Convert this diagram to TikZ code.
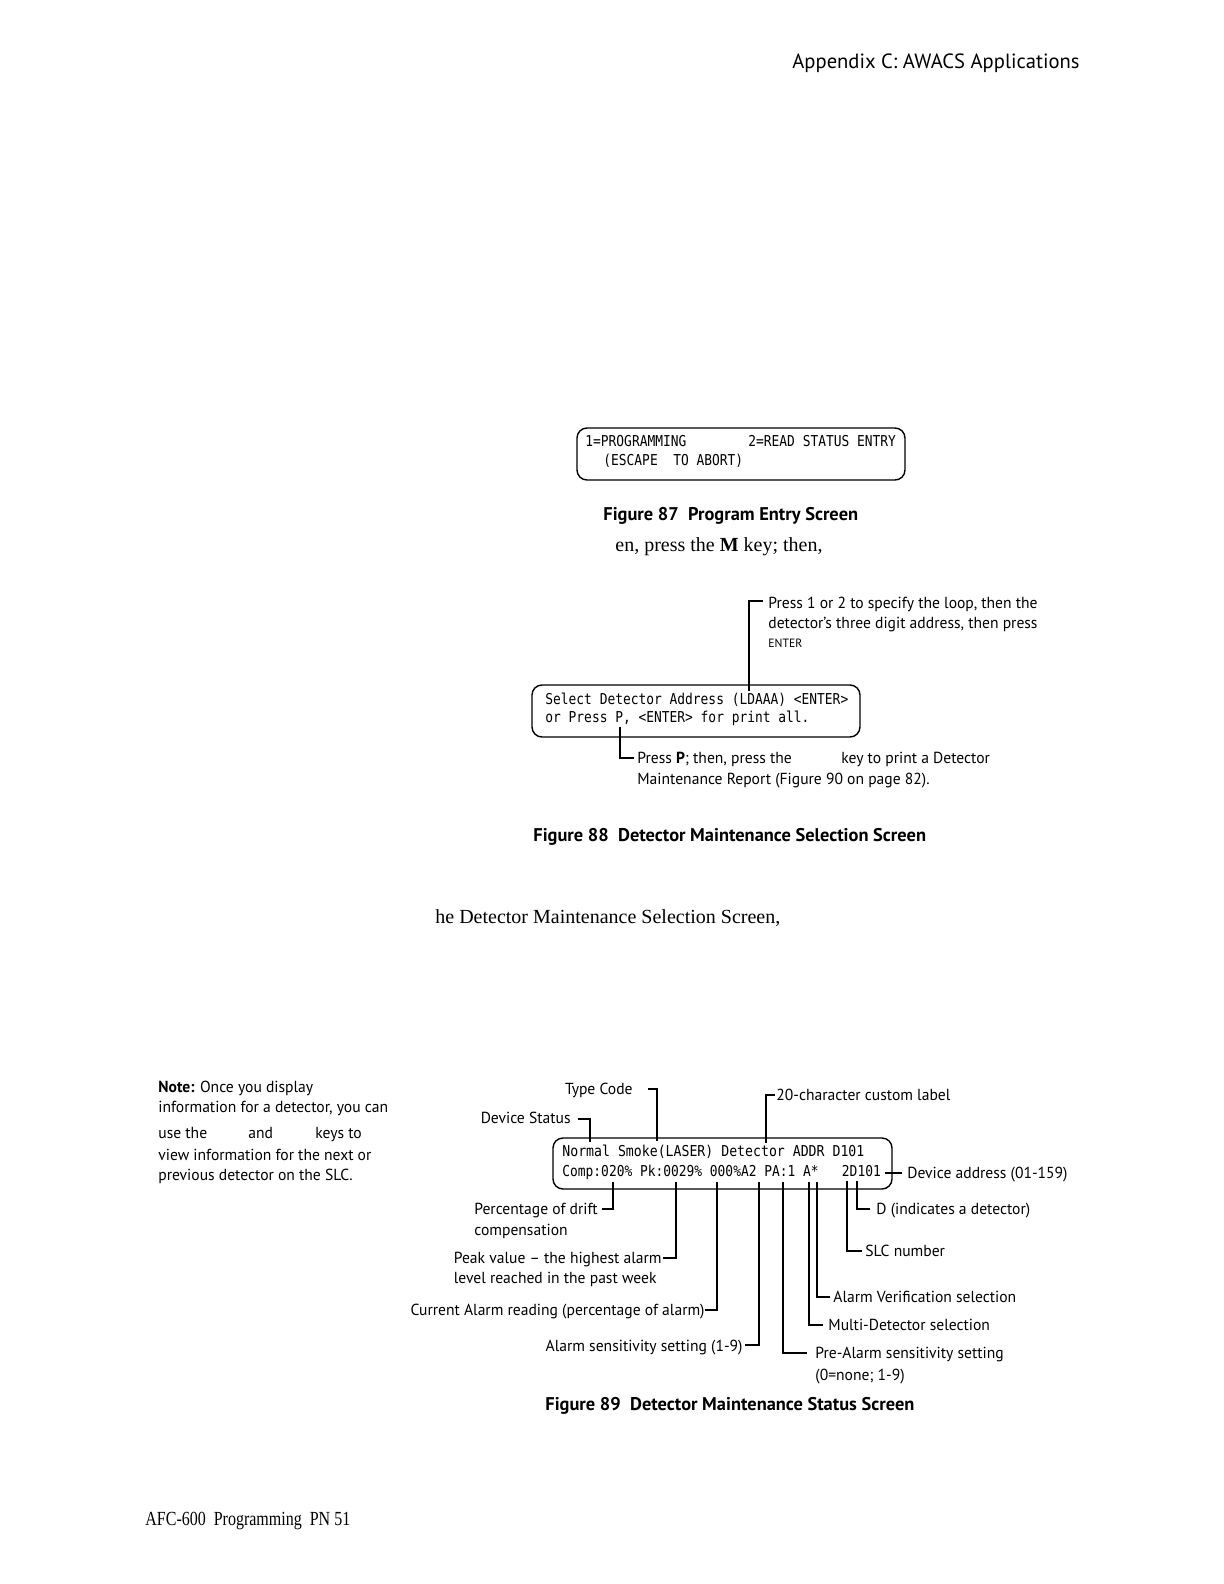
\documentclass[tikz,border=0pt]{standalone}
\usepackage{fontspec}
\setmainfont{Liberation Serif}
\newfontfamily\lblfont{PT Sans}[FakeStretch=0.975]
\newfontfamily\figcapfont{PT Sans}
\newfontfamily\hdrfont{PT Sans}
\newfontfamily\scrfont{DejaVu Sans Mono}[FakeStretch=0.86]
\newfontfamily\scrfontw{DejaVu Sans Mono}[FakeStretch=0.88]
\newfontfamily\pgfootfont{Liberation Serif}[FakeStretch=0.8]
\usetikzlibrary{calc}
\begin{document}
\begin{tikzpicture}[x=0.5pt,y=-0.5pt,
 lab/.style={inner sep=0pt, font=\lblfont\fontsize{8}{10}\selectfont},
 scr/.style={inner sep=0pt, font=\scrfont\fontsize{7.5}{9}\selectfont},
 capt/.style={inner sep=0pt, font=\figcapfont\bfseries\fontsize{9.2}{11}\selectfont},
 body/.style={inner sep=0pt, font=\fontsize{10}{12}\selectfont},
 screen/.style={draw, line width=0.7pt, rounded corners=5pt, inner sep=0pt},
 lead/.style={line width=0.6pt},
 bw/.style={anchor=base west}, be/.style={anchor=base east}]
\fill[white] (0,0) rectangle (1224,1584);
\useasboundingbox (0,0) rectangle (1224,1584);

% header / footer
\node[bw, inner sep=0pt, font=\hdrfont\fontsize{10.3}{12}\selectfont] (hdr) at (792,69) {Appendix C: AWACS Applications};
\node[bw, inner sep=0pt, font=\pgfootfont\fontsize{10}{12}\selectfont] (foot) at (145,1525) {AFC-600\ \ Programming\ \ PN 51};

% Figure 87
\node[screen, minimum width=164pt, minimum height=26pt] (box87) at (741,454) {};
\node[scr,bw] (s87a) at (585,446) {1=PROGRAMMING};
\node[scr,bw] (s87b) at (748,446) {2=READ STATUS ENTRY};
\node[scr,bw] (s87c) at (603,465) {(ESCAPE\ \ TO ABORT)};
\node[capt,bw] (cap87) at (603,520) {Figure 87\ \ Program Entry Screen};
\node[body,bw] (txt1) at (615,551) {en, press the \textbf{M} key; then,};

% Figure 88
\node[screen, minimum width=164pt, minimum height=26pt] (box88) at (696,711) {};
\node[scr,bw] (s88a) at (545,704) {Select Detector Address (LDAAA) <ENTER>};
\node[scr,bw] (s88b) at (545,722) {or Press P, <ENTER> for print all.};

\node[lab,bw] (u1) at (768,608) {Press 1 or 2 to specify the loop, then the};
\node[lab,bw] (u2) at (768,628) {detector’s three digit address, then press};
\node[lab,bw,font=\lblfont\fontsize{6}{7}\selectfont] (u3) at (768,647) {ENTER};
\coordinate (k88a) at (749,691);
\draw[lead] ($(u1.base west)+(-5,-7)$) -| (k88a);

\node[lab,bw] (d1) at (637,763) {Press \textbf{P}; then, press the};
\node[lab,bw] (d1b) at (841,763) {key to print a Detector};
\node[lab,bw] (d2) at (637,784) {Maintenance Report (Figure 90 on page 82).};
\coordinate (k88b) at (620,727);
\draw[lead] (k88b) |- ($(d1.base west)+(-3,-5)$);

\node[capt,bw] (cap88) at (533,841) {Figure 88\ \ Detector Maintenance Selection Screen};

\node[body,bw] (txt2) at (435,923) {he Detector Maintenance Selection Screen,};

% Note
\node[lab,bw] (n1) at (158,1092) {\textbf{Note:} Once you display};
\node[lab,bw] (n2) at (158,1112) {information for a detector, you can};
\node[lab,bw] (n3a) at (158,1138) {use the};
\node[lab,bw] (n3b) at (248,1138) {and};
\node[lab,bw] (n3c) at (315,1138) {keys to};
\node[lab,bw] (n4) at (158,1160) {view information for the next or};
\node[lab,bw] (n5) at (158,1180) {previous detector on the SLC.};

% Figure 89
\node[screen, minimum width=169.5pt, minimum height=25.5pt] (box89) at (722.5,1163.5) {};
\node[scr,bw,font=\scrfontw\fontsize{7.5}{9}\selectfont] (s89a) at (562,1156) {Normal Smoke(LASER) Detector ADDR D101};
\node[scr,bw] (s89b) at (562,1176) {Comp:020\% Pk:0029\% 000\%A2 PA:1 A*\ \ \ 2D101};

\node[lab,be] (tc) at (633,1094) {Type Code};
\coordinate (ktc) at (657,1141);
\draw[lead] ($(tc.base east)+(15,-5)$) -| (ktc);

\node[lab,be] (ds) at (571,1123) {Device Status};
\coordinate (kds) at (590,1142);
\draw[lead] ($(ds.base east)+(7,-4)$) -| (kds);

\node[lab,bw] (cl) at (776,1100) {20-character custom label};
\coordinate (kcl) at (766,1143);
\draw[lead] ($(cl.base west)+(-1,-5)$) -| (kcl);

\node[lab,bw] (da) at (907,1178) {Device address (01-159)};
\coordinate (kda) at (885,1173);
\draw[lead] (kda) -- ($(da.base west)+(-5,-5)$);

\coordinate (kD) at (857,1181);
\node[lab,bw] (dd) at (876,1214) {D (indicates a detector)};
\draw[lead] (kD) |- ($(dd.base west)+(-6,-5)$);

\coordinate (kslc) at (847,1181);
\node[lab,bw] (slc) at (865,1256) {SLC number};
\draw[lead] (kslc) |- ($(slc.base west)+(-3,-5)$);

\coordinate (kav) at (817,1182);
\node[lab,bw] (av) at (833,1302) {Alarm Verification selection};
\draw[lead] (kav) |- ($(av.base west)+(-3,-5)$);

\coordinate (kmd) at (809,1182);
\node[lab,bw] (md) at (828,1330) {Multi-Detector selection};
\draw[lead] (kmd) |- ($(md.base west)+(-5,-5)$);

\coordinate (kpa) at (783,1182);
\node[lab,bw] (pa1) at (815,1358) {Pre-Alarm sensitivity setting};
\node[lab,bw] (pa2) at (815,1380) {(0=none; 1-9)};
\draw[lead] (kpa) |- ($(pa1.base west)+(-8,-5)$);

\coordinate (kas) at (759,1182);
\node[lab,be] (as) at (743,1351) {Alarm sensitivity setting (1-9)};
\draw[lead] ($(as.base east)+(2,-6)$) -| (kas);

\coordinate (kca) at (717,1182);
\node[lab,be] (ca) at (705,1315) {Current Alarm reading (percentage of alarm)};
\draw[lead] ($(ca.base east)+(0,-5)$) -| (kca);

\coordinate (kpk) at (676,1182);
\node[lab,be] (pk1) at (662,1263) {Peak value – the highest alarm};
\node[lab,bw] (pk2) at ($(pk1.base west)+(0,20)$) {level reached in the past week};
\draw[lead] ($(pk1.base east)+(1,-5)$) -| (kpk);

\coordinate (kpd) at (613,1182);
\node[lab,be] (pd1) at (598,1214) {Percentage of drift};
\node[lab,bw] (pd2) at ($(pd1.base west)+(0,21)$) {compensation};
\draw[lead] ($(pd1.base east)+(4,-5)$) -| (kpd);

\node[capt,bw] (cap89) at (545,1410) {Figure 89\ \ Detector Maintenance Status Screen};
\end{tikzpicture}
\end{document}
